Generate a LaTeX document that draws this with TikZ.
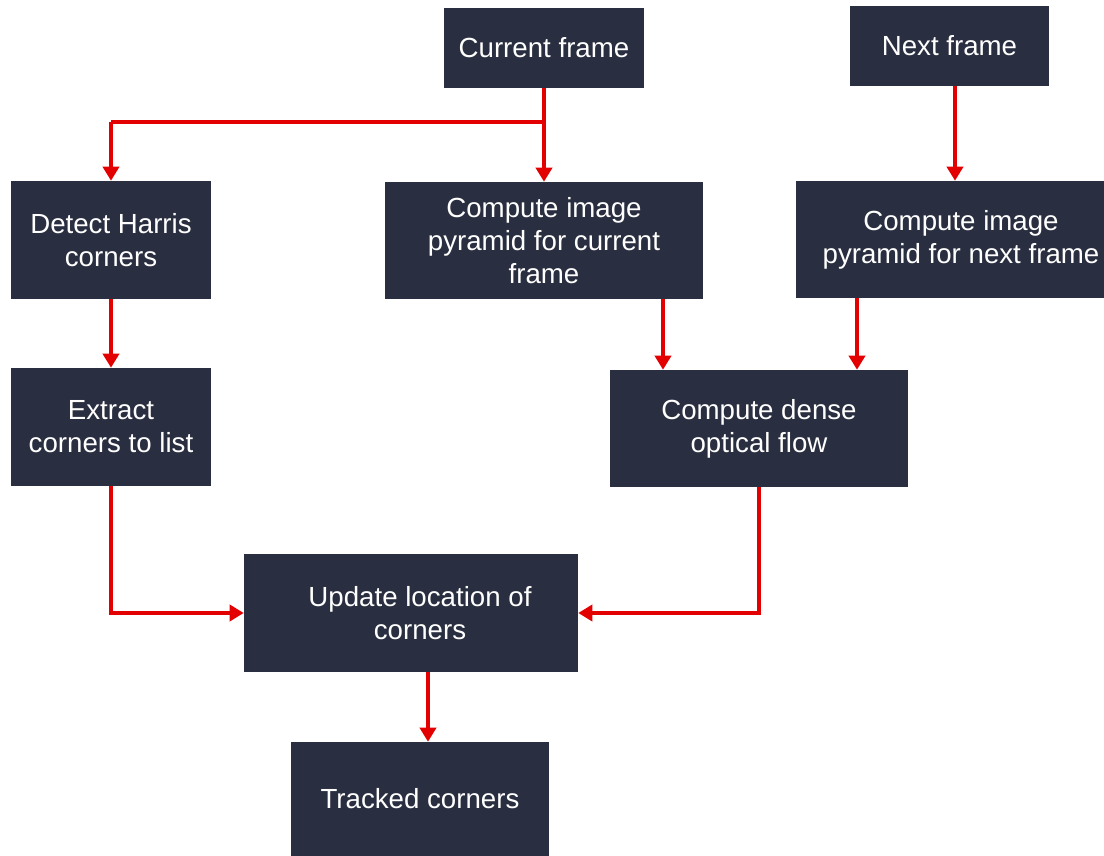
\documentclass[tikz,border=0pt]{standalone}
\usepackage{fontspec}
\setmainfont{Liberation Sans}
\usetikzlibrary{arrows.meta}
\definecolor{boxfill}{RGB}{41,46,64}
\definecolor{arrred}{RGB}{226,0,0}
\begin{document}
\begin{tikzpicture}[x=0.75pt,y=-0.75pt,
  box/.style={draw=none,fill=boxfill,text=white,align=center,inner sep=0pt,
    font=\fontsize{20.75pt}{24.75pt}\selectfont},
  arr/.style={draw=arrred,line width=3pt,-{Triangle[length=10.5pt,width=12pt]}},
  lin/.style={draw=arrred,line width=3pt}]
\useasboundingbox (0,0) rectangle (1104,856);
\node[box,minimum width=150pt,minimum height=60pt] (cur) at (544,48) {Current frame};
\node[box,minimum width=149.25pt,minimum height=60pt] (next) at (949.5,46) {Next frame};
\node[box,minimum width=150pt,minimum height=88.5pt] (detect) at (111,240) {Detect Harris\\corners};
\node[box,minimum width=238.5pt,minimum height=87.75pt] (pcur) at (544,240.5) {Compute image\\pyramid for current\\frame};
\node[box,minimum width=247.5pt,minimum height=87.75pt] (pnext) at (961,239.5) {Compute image\\pyramid for next frame};
\node[box,minimum width=150pt,minimum height=88.5pt] (extract) at (111,427) {Extract\\corners to list};
\node[box,minimum width=223.5pt,minimum height=87.75pt] (dense) at (759,428.5) {Compute dense\\optical flow};
\node[box,minimum width=250.5pt,minimum height=88.5pt] (update) at (411,613) {\hspace*{13.5pt}Update location of\\\hspace*{13.5pt}corners};
\node[box,minimum width=193.5pt,minimum height=85.5pt] (tracked) at (420,799) {Tracked corners};
\coordinate (br) at (544,122);
\coordinate (nx) at (955,0);
\coordinate (px1) at (663,0);
\coordinate (px2) at (857,0);
\coordinate (ux) at (428,0);
\draw[arr] (cur) -- (pcur);
\draw[lin] (br) -- (br -| detect.north);
\draw[arr] (br -| detect.north) -- (detect.north);
\draw[arr] (next.south -| nx) -- (pnext.north -| nx);
\draw[arr] (detect) -- (extract);
\draw[arr] (pcur.south -| px1) -- (dense.north -| px1);
\draw[arr] (pnext.south -| px2) -- (dense.north -| px2);
\draw[arr] (extract.south) |- (update.west);
\draw[arr] (dense.south) |- (update.east);
\draw[arr] (update.south -| ux) -- (tracked.north -| ux);
\end{tikzpicture}
\end{document}
